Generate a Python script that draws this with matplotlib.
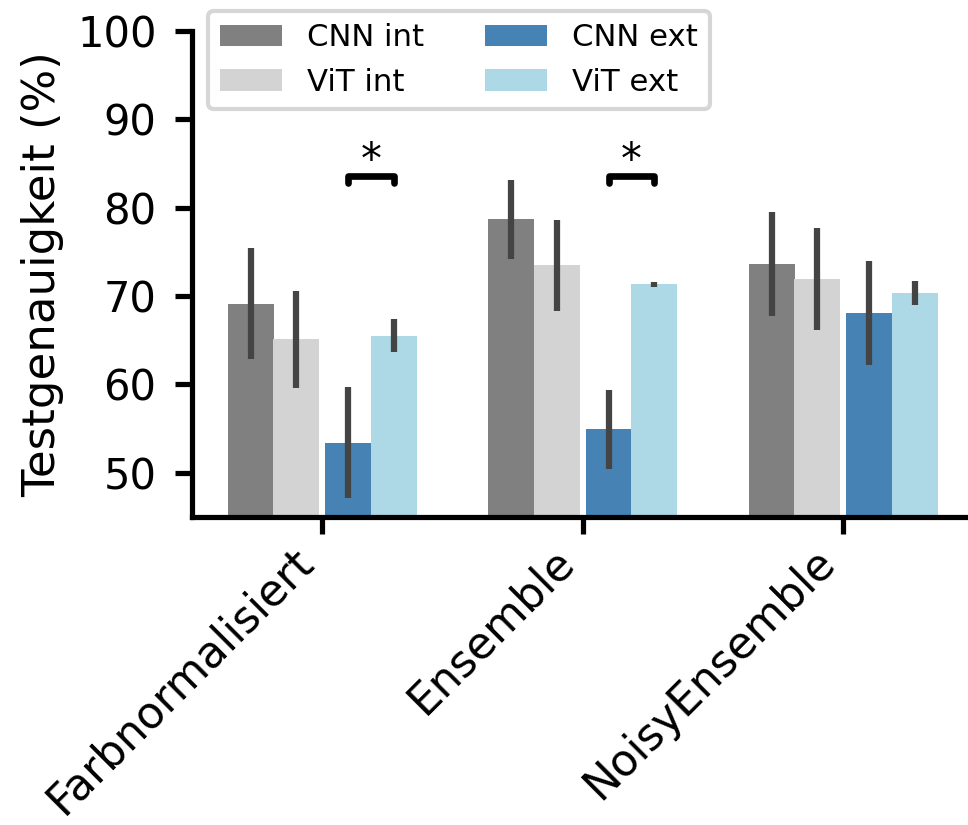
import matplotlib

matplotlib.use("Agg")
import matplotlib.pyplot as plt
import numpy as np

# values (mean, lower / upper end of error bar)
categories = ["Farbnormalisiert", "Ensemble", "NoisyEnsemble"]
series = ["CNN int", "ViT int", "CNN ext", "ViT ext"]

cnn_int = [69.1, 78.7, 73.6]
cnn_int_lo = [62.9, 74.2, 67.7]
cnn_int_hi = [75.4, 83.1, 79.5]

vit_int = [65.1, 73.5, 71.9]
vit_int_lo = [59.6, 68.3, 66.1]
vit_int_hi = [70.6, 78.6, 77.7]

cnn_ext = [53.4, 54.9, 68.1]
cnn_ext_lo = [47.1, 50.4, 62.2]
cnn_ext_hi = [59.7, 59.4, 74.0]

vit_ext = [65.5, 71.3, 70.3]
vit_ext_lo = [63.7, 71.05, 69.0]
vit_ext_hi = [67.4, 71.55, 71.7]

# significant pairs (category index, series a, series b)
sig_pairs = [(0, "CNN ext", "ViT ext"), (1, "CNN ext", "ViT ext")]
sig_height = 83.6

colors = {"CNN int": "gray", "ViT int": "lightgray", "CNN ext": "steelblue", "ViT ext": "lightblue"}
offsets = {"CNN int": -0.275, "ViT int": -0.1, "CNN ext": 0.1, "ViT ext": 0.275}
bar_w = 0.176

means = {"CNN int": cnn_int, "ViT int": vit_int, "CNN ext": cnn_ext, "ViT ext": vit_ext}
lows = {"CNN int": cnn_int_lo, "ViT int": vit_int_lo, "CNN ext": cnn_ext_lo, "ViT ext": vit_ext_lo}
highs = {"CNN int": cnn_int_hi, "ViT int": vit_int_hi, "CNN ext": cnn_ext_hi, "ViT ext": vit_ext_hi}

fig = plt.figure(figsize=(968 / 300, 825 / 300), dpi=300)
ax = fig.add_axes([192 / 968, 1 - 517 / 825, (973.5 - 192) / 968, (517 - 30.7) / 825])

x = np.arange(len(categories))
for s in series:
    xs = x + offsets[s]
    ax.bar(xs, means[s], width=bar_w, color=colors[s], label=s, zorder=2)
    ax.vlines(xs, lows[s], highs[s], color="#444444", lw=1.5, zorder=3)

for ci, a, b in sig_pairs:
    xa, xb = ci + offsets[a], ci + offsets[b]
    ax.plot([xa, xa, xb, xb], [sig_height - 0.8, sig_height, sig_height, sig_height - 0.8],
            color="black", lw=1.6, solid_joinstyle="round", solid_capstyle="round", zorder=4)
    ax.text((xa + xb) / 2, sig_height + 0.35, "*", ha="center", va="baseline", fontsize=10)

ax.set_xlim(-0.5, 2.5)
ax.set_ylim(45, 100)
ax.set_yticks([50, 60, 70, 80, 90, 100])
ax.set_xticks(x)
ax.set_xticklabels(categories, rotation=45, ha="right", fontsize=10.5)
ax.tick_params(axis="y", labelsize=10, length=4, width=1.25, pad=4.5)
ax.tick_params(axis="x", length=4, width=1.25, pad=1.5)
ax.set_ylabel("Testgenauigkeit (%)", fontsize=10.8, labelpad=3)

for side in ("top", "right"):
    ax.spines[side].set_visible(False)
for side in ("left", "bottom"):
    ax.spines[side].set_linewidth(1.25)

ax.legend(ncol=2, fontsize=7.4, loc="upper left", bbox_to_anchor=(0.0205, 1.041), borderaxespad=0)

fig.savefig("out.png", dpi=300)
